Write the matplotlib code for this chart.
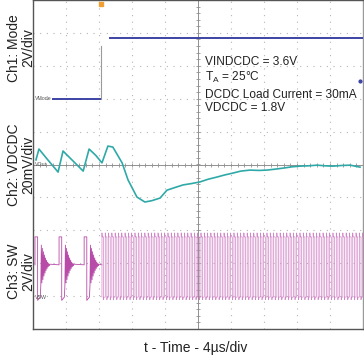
import matplotlib
matplotlib.use("Agg")
import matplotlib.pyplot as plt
import numpy as np

plt.rcParams['font.family'] = ['Liberation Sans', 'DejaVu Sans']
plt.rcParams['mathtext.fontset'] = 'custom'
plt.rcParams['mathtext.rm'] = 'Liberation Sans'

# ---------------- data (in scope divisions) ----------------
# Ch1: Mode
ch1_low_level = 7.0
ch1_high_level = 8.85
ch1_low_x = [0.60, 2.06]
ch1_edge_x = 2.06
ch1_edge_top = 8.6
ch1_high_x = [2.33, 10.0]

# Ch2: VDCDC waypoints
ch2_x = [0.09, 0.18, 0.40, 0.76, 0.91, 1.20, 1.52, 1.70, 1.90, 2.09, 2.27, 2.42, 2.70,
         2.88, 3.15, 3.39, 3.60, 3.85, 4.06, 4.30, 4.55, 4.80, 5.06, 5.30, 5.58, 5.80,
         6.06, 6.30, 6.58, 6.85, 7.09, 7.35, 7.58, 7.85, 8.09, 8.35, 8.61, 8.85, 9.09,
         9.35, 9.61, 9.91]
ch2_y = [5.14, 5.47, 5.20, 4.77, 5.41, 5.12, 4.80, 5.47, 5.28, 5.05, 5.56, 5.53, 5.05,
         4.53, 4.01, 3.86, 3.90, 3.98, 4.22, 4.30, 4.38, 4.42, 4.47, 4.55, 4.62, 4.68,
         4.74, 4.80, 4.83, 4.82, 4.83, 4.86, 4.89, 4.93, 4.95, 4.96, 4.98, 4.96, 4.95,
         4.97, 4.98, 4.92]

# Ch3: SW
sw_high = 2.80
sw_low = 0.97
sw_mid = 1.95
sw_burst_starts = [0.06, 0.79, 1.55]
sw_on_time = 0.08
sw_off_time = 0.08
sw_ring = [-0.65, 0.60, -0.55, 0.50, -0.45, 0.40, -0.34, 0.30, -0.25, 0.21, -0.17,
           0.14, -0.11, 0.08, -0.06, 0.04, -0.03, 0.02]
sw_ring_step = 0.016
sw_cont_start = 2.09
sw_cont_end = 10.0
sw_period = 0.10

labels_y = ["Ch1: Mode\n2V/div", "Ch2: VDCDC\n20mV/div", "Ch3: SW\n2V/div"]
labels_y_pos = [8.55, 5.0, 1.75]
xlabel = "t - Time - 4µs/div"
notes = ["VINDCDC = 3.6V", "T$_\\mathrm{A}$ = 25°C", "DCDC Load Current = 30mA", "VDCDC = 1.8V"]
notes_y = [8.12, 7.66, 7.12, 6.72]

# ---------------- figure ----------------
fig = plt.figure(figsize=(3.64, 3.56), dpi=100)
ax = fig.add_axes([33 / 364, 27 / 356, 330 / 364, 329 / 356])
ax.set_xlim(0, 10)
ax.set_ylim(0, 10)
ax.set_xticks([])
ax.set_yticks([])
for s in ax.spines.values():
    s.set_color('#555555')
    s.set_linewidth(1.0)
ax.spines['right'].set_color('#999999')

grid_c = '#b5b5b5'
for g in range(1, 10):
    if g == 5:
        continue
    ax.axvline(g, color=grid_c, lw=0.8, ls=(0, (1, 5)), zorder=1)
    ax.axhline(g, color=grid_c, lw=0.8, ls=(0, (1, 5)), zorder=1)
ax.axvline(5, color='#909090', lw=0.7, zorder=1)
ax.axhline(5, color='#909090', lw=0.7, zorder=1)
minor = np.arange(0.2, 10, 0.2)
ax.plot(minor, np.full_like(minor, 5), ls='none', marker='|', ms=3, mew=0.6, color='#909090', zorder=1)
ax.plot(np.full_like(minor, 5), minor, ls='none', marker='_', ms=3, mew=0.6, color='#909090', zorder=1)

# Ch1
blue = '#3d43a3'
ax.plot(ch1_low_x, [ch1_low_level] * 2, color=blue, lw=1.4, zorder=3)
ax.plot([ch1_edge_x, ch1_edge_x], [ch1_low_level, ch1_edge_top], color='#9a9a9a', lw=0.8, zorder=3)
ax.plot(ch1_high_x, [ch1_high_level] * 2, color=blue, lw=1.4, zorder=3)
ax.plot([9.9], [7.55], marker='o', ms=2, color=blue, zorder=3)
ax.plot([ch1_edge_x], [9.88], marker='s', ms=3.5, color='#f0a030', zorder=4, clip_on=False)
ax.text(0.06, ch1_low_level, "VMode", fontsize=3.8, color='#555555', va='center', ha='left')

# Ch2
ax.plot(ch2_x, ch2_y, color='#2fa9a8', lw=1.2, zorder=3)
ax.text(0.06, 5.0, "VOut", fontsize=3.8, color='#555555', va='center', ha='left')

# Ch3 bursts
bx, by = [], []
for t0 in sw_burst_starts:
    bx += [t0, t0, t0 + sw_on_time, t0 + sw_on_time, t0 + sw_on_time + sw_off_time]
    by += [sw_mid, sw_high, sw_high, sw_low - 0.1, sw_low]
    tr = t0 + sw_on_time + sw_off_time
    for i, a in enumerate(sw_ring):
        bx.append(tr + (i + 1) * sw_ring_step)
        by.append(sw_mid + a)
    nxt = [b for b in sw_burst_starts if b > t0]
    end = nxt[0] if nxt else sw_cont_start
    bx.append(end)
    by.append(sw_mid)
ax.plot(bx, by, color='#b84aa8', lw=0.6, zorder=3)

# Ch3 continuous switching
cx, cy = [], []
t = sw_cont_start
while t < sw_cont_end - 1e-9:
    h = sw_period / 2
    cx += [t, t, t + 0.006, t + h, t + h, t + h + 0.006, t + sw_period]
    cy += [sw_low, sw_high + 0.12, sw_high, sw_high, sw_low - 0.08, sw_low, sw_low]
    t += sw_period
ax.plot(cx, cy, color='#d286c8', lw=0.5, zorder=3)
ax.text(0.06, sw_low - 0.02, "VSW", fontsize=3.8, color='#555555', va='center', ha='left')

# notes
for n, yn in zip(notes, notes_y):
    ax.text(5.2, yn, n, fontsize=8.6, color='#222222', va='center', ha='left')

# labels
for lab, yp in zip(labels_y, labels_y_pos):
    fig.text(0.058, ax.transData.transform((0, yp))[1] / fig.bbox.height, lab,
             rotation=90, fontsize=10, ha='center', va='center', color='#222222',
             multialignment='center', linespacing=0.95, transform=fig.transFigure)
fig.text(196 / 364, 1 - 348 / 356, xlabel, fontsize=10, ha='center', va='center', color='#222222')

fig.savefig("out.png", dpi=100)
